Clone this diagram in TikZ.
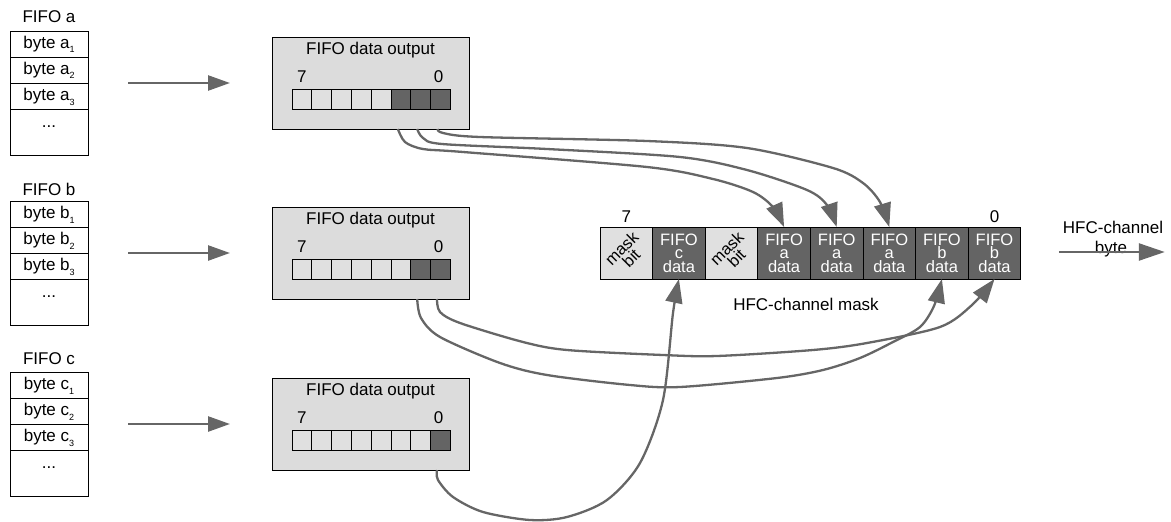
\documentclass[tikz,border=0pt]{standalone}
\usepackage{fontspec}
\setmainfont{Liberation Sans}
\usetikzlibrary{arrows.meta,calc}
\definecolor{boxgray}{RGB}{220,220,220}
\definecolor{lightcell}{RGB}{224,224,224}
\definecolor{darkcell}{RGB}{100,100,100}
\definecolor{arrowgray}{RGB}{102,102,102}
\newcommand{\sbs}[1]{\raisebox{-5pt}{\fontsize{9}{9}\selectfont #1}}
\begin{document}
\begin{tikzpicture}[x=1pt,y=-1pt,
  every node/.style={inner sep=0pt, outer sep=0pt, font=\fontsize{17}{17}\selectfont},
  fiforow/.style={draw=black, line width=0.8pt, minimum width=78pt, minimum height=26pt, text height=12pt, text depth=4pt},
  fifoend/.style={draw=black, line width=0.8pt, minimum width=78pt, minimum height=46pt, text height=12pt, text depth=4pt},
  outbox/.style={draw=black, line width=0.8pt, fill=boxgray, minimum width=197pt, minimum height=92pt},
  bitL/.style={draw=black, line width=0.8pt, fill=lightcell, minimum width=19.8pt, minimum height=20pt},
  bitD/.style={bitL, fill=darkcell},
  maskL/.style={draw=black, line width=0.8pt, fill=lightcell, minimum width=52.6pt, minimum height=52pt},
  maskD/.style={maskL, fill=darkcell, text=white, align=center, font=\fontsize{16.5}{13.5}\selectfont},
  masktxt/.style={rotate=45, align=center, font=\fontsize{16.5}{13.5}\selectfont},
  feed/.style={draw=arrowgray, line width=2.5pt, -{Triangle[length=22pt,width=15pt]}},
  route/.style={draw=arrowgray, line width=2.3pt, -{Triangle[length=24pt,width=17pt]}},
]
\useasboundingbox (0,0) rectangle (1171,522);

% FIFO a
\node[anchor=base] (fal) at (49,23) {FIFO a};
\node[fiforow] (fa1) at (49,44) {byte a\sbs{1}};
\node[fiforow] (fa2) at (49,70) {byte a\sbs{2}};
\node[fiforow] (fa3) at (49,96) {byte a\sbs{3}};
\node[fifoend] (fa4) at (49,132) {\raisebox{9pt}{...}};
% FIFO b
\node[anchor=base] (fbl) at (49,195) {FIFO b};
\node[fiforow] (fb1) at (49,214) {byte b\sbs{1}};
\node[fiforow] (fb2) at (49,240) {byte b\sbs{2}};
\node[fiforow] (fb3) at (49,266) {byte b\sbs{3}};
\node[fifoend] (fb4) at (49,302) {\raisebox{9pt}{...}};
% FIFO c
\node[anchor=base] (fcl) at (49,364) {FIFO c};
\node[fiforow] (fc1) at (49,385) {byte c\sbs{1}};
\node[fiforow] (fc2) at (49,411) {byte c\sbs{2}};
\node[fiforow] (fc3) at (49,437) {byte c\sbs{3}};
\node[fifoend] (fc4) at (49,473) {\raisebox{9pt}{...}};

% output boxes
\node[outbox] (boxa) at (370.5,83) {};
\node[outbox] (boxb) at (370.5,253) {};
\node[outbox] (boxc) at (370.5,424) {};
\foreach \b in {a,b,c}{
  \node[anchor=base] (t\b) at ($(box\b.north)+(0,17)$) {FIFO data output};
}
% bits
\foreach \i in {3,...,7}{\node[bitL] (ab\i) at (301.9+19.8*7-19.8*\i, 99) {};}
\foreach \i in {0,1,2}{\node[bitD] (ab\i) at (301.9+19.8*7-19.8*\i, 99) {};}
\foreach \i in {2,...,7}{\node[bitL] (bb\i) at (301.9+19.8*7-19.8*\i, 269) {};}
\foreach \i in {0,1}{\node[bitD] (bb\i) at (301.9+19.8*7-19.8*\i, 269) {};}
\foreach \i in {1,...,7}{\node[bitL] (cb\i) at (301.9+19.8*7-19.8*\i, 440) {};}
\node[bitD] (cb0) at (440.5, 440) {};
\foreach \b in {a,b,c}{
  \node[anchor=base] (\b s7) at ($(\b b7)+(0,-17)$) {7};
  \node[anchor=base] (\b s0) at ($(\b b0)+(-2,-17)$) {0};
}

% feed arrows
\draw[feed] ([xshift=40]fa3.north east) -- ([xshift=-42]boxa.west);
\draw[feed] ([xshift=40]fb3.north east) -- ([xshift=-42]boxb.west);
\draw[feed] ([xshift=40]fc3.north east) -- ([xshift=-42]boxc.west);

% mask register
\node[maskL] (m7) at (626.3,253) {};
\node[maskD] (m6) at (678.9,253) {FIFO\\c\\data};
\node[maskL] (m5) at (731.5,253) {};
\node[maskD] (m4) at (784.1,253) {FIFO\\a\\data};
\node[maskD] (m3) at (836.7,253) {FIFO\\a\\data};
\node[maskD] (m2) at (889.3,253) {FIFO\\a\\data};
\node[maskD] (m1) at (941.9,253) {FIFO\\b\\data};
\node[maskD] (m0) at (994.5,253) {FIFO\\b\\data};
\node[masktxt] (mt7) at (m7) {mask\\bit};
\node[masktxt] (mt5) at (m5) {mask\\bit};
\node[anchor=base] (mh7) at (626.3,222) {7};
\node[anchor=base] (mh0) at (994.5,222) {0};
\node[anchor=base] (mlab) at (806,310) {HFC-channel mask};

% output
\node[anchor=base] (hfc1) at (1113,233) {HFC-channel};
\node[anchor=base] (hfc2) at (1111,253) {byte};
\coordinate (hs) at ($(m0.east)+(38,-1)$);
\coordinate (he) at ($(m0.east)+(144,-1)$);
\draw[draw=arrowgray, line width=2.5pt, -{Triangle[length=26pt,width=17pt]}] (hs) -- (he);

% start points
\coordinate (sa2) at ($(ab2|-boxa.south)+(-3,0)$);
\coordinate (sa1) at ($(ab1|-boxa.south)+(-3.5,0)$);
\coordinate (sa0) at ($(ab0|-boxa.south)+(-3,0)$);
\coordinate (sb1) at ($(bb1|-boxb.south)+(-3.5,0)$);
\coordinate (sb0) at ($(bb0|-boxb.south)+(-3.5,0)$);
\coordinate (sc0) at ($(cb0|-boxc.south)+(-3.5,0)$);

\draw[route] plot[smooth, tension=0.5] coordinates {(sa2) (405,142) (423,149) (463,152) (647,167) (713,179) (753,192) (773,207) (m4.north)};
\draw[route] plot[smooth, tension=0.5] coordinates {(sa1) (423,138) (442,144) (547,149) (680,157) (747,170) (807,190) (827,205) (m3.north)};
\draw[route] plot[smooth, tension=0.5] coordinates {(sa0) (443,133) (480,137) (647,141) (747,148) (833,168) (863,183) (880,202) (m2.north)};
\draw[route] plot[smooth, tension=0.5] coordinates {(sb1) (421,318) (440,337) (500,363) (547,375) (630,385) (680,387) (777,378) (823,370) (860,358) (893,342) (920,327) (934,306) (m1.south)};
\draw[route] plot[smooth, tension=0.5] coordinates {(sb0) (440,312) (460,323) (523,342) (567,350) (663,355) (717,356) (813,350) (867,343) (940,327) (972,305) (m0.south)};
\draw[route] plot[smooth, tension=0.5] coordinates {(sc0) (438,480) (453,497) (483,512) (530,520) (567,517) (607,500) (640,463) (663,400) (673,313) (m6.south)};
\end{tikzpicture}
\end{document}
